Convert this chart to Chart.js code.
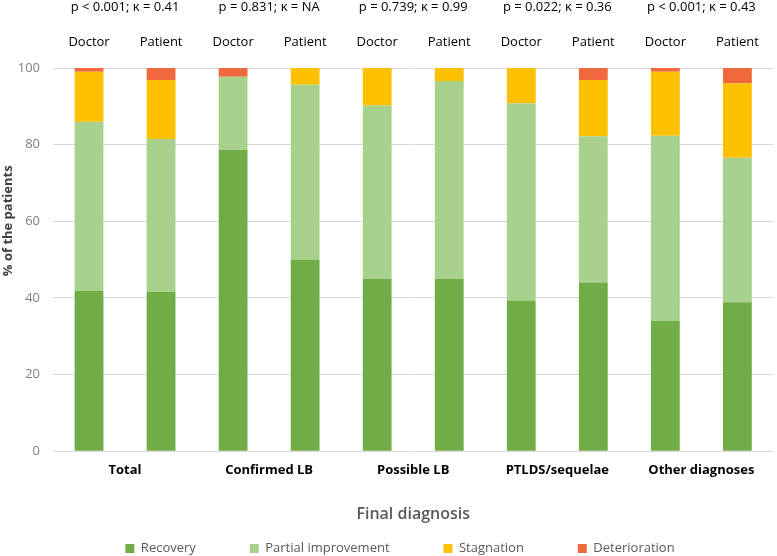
<!DOCTYPE html>
<html>
<head>
<meta charset="utf-8">
<script src="https://cdn.jsdelivr.net/npm/chart.js@4"></script>
<style>
  html, body { margin: 0; padding: 0; background: #fff; }
  #wrap { width: 777px; height: 556px; position: relative; }
</style>
</head>
<body>
<div id="wrap"><canvas id="chart"></canvas></div>
<script>
const ROLES = ["Doctor", "Patient", "Doctor", "Patient", "Doctor", "Patient", "Doctor", "Patient", "Doctor", "Patient"];
const GROUPS = ["Total", "Confirmed LB", "Possible LB", "PTLDS/sequelae", "Other diagnoses"];
const STATS = [
  "p < 0.001; κ = 0.41",
  "p = 0.831; κ = NA",
  "p = 0.739; κ = 0.99",
  "p = 0.022; κ = 0.36",
  "p < 0.001; κ = 0.43",
];

// % of the patients, one value per bar (Doctor/Patient per group)
const RECOVERY = [41.8, 41.6, 78.6, 50.0, 45.0, 45.0, 39.3, 44.0, 34.0, 38.9];
const PARTIAL = [44.2, 39.9, 19.1, 45.6, 45.2, 51.6, 51.5, 38.2, 48.3, 37.7];
const STAGNATION = [13.0, 15.4, 0, 4.4, 9.8, 3.4, 9.2, 14.7, 16.7, 19.4];
const DETERIORATION = [1.0, 3.1, 2.3, 0, 0, 0, 0, 3.1, 1.0, 4.0];

const FONT = "'Open Sans', 'Noto Sans', sans-serif";
const LEGEND_GAP = "             "; // widens the space between legend items

function makeDataset(label, data, color) {
  return {
    label: label,
    data: data,
    backgroundColor: color,
    borderWidth: 0,
    categoryPercentage: 1,
    barPercentage: 0.4,
  };
}

// nudge the legend a little to the right, as in the original
const legendShift = {
  id: "legendShift",
  afterLayout(chart) {
    if (chart.legend) {
      chart.legend.left += 24;
    }
  },
};

new Chart(document.getElementById("chart"), {
  type: "bar",
  data: {
    labels: ROLES,
    datasets: [
      makeDataset("Recovery", RECOVERY, "#70AD47"),
      makeDataset("Partial improvement", PARTIAL, "#A9D18E"),
      makeDataset("Stagnation", STAGNATION, "#FFC000"),
      makeDataset("Deterioration", DETERIORATION, "#F0683E"),
    ],
  },
  plugins: [legendShift],
  options: {
    responsive: true,
    maintainAspectRatio: false,
    animation: false,
    layout: { padding: { top: 0, right: 1, bottom: -9, left: 0 } },
    scales: {
      x: {
        position: "top",
        stacked: true,
        weight: 1,
        afterFit(axis) {
          axis.height = 34;
        },
        grid: { display: false, drawTicks: false },
        border: { display: false },
        ticks: { color: "#000", padding: 18, font: { family: FONT, size: 13 } },
      },
      xStats: {
        type: "category",
        position: "top",
        labels: STATS,
        weight: 2,
        afterFit(axis) {
          axis.height = 34;
        },
        grid: { display: false, drawTicks: false },
        border: { display: false },
        ticks: { color: "#000", padding: 19, font: { family: FONT, size: 13 } },
      },
      xGroups: {
        type: "category",
        position: "bottom",
        labels: GROUPS,
        grid: { display: false, drawTicks: false },
        border: { display: false },
        ticks: { color: "#000", padding: 11, font: { family: FONT, size: 13, weight: "bold" } },
        title: {
          display: true,
          text: "Final diagnosis",
          color: "#595959",
          font: { family: FONT, size: 16, weight: 600 },
          padding: { top: 16, bottom: 8 },
        },
      },
      y: {
        stacked: true,
        min: 0,
        max: 100,
        afterFit(axis) {
          axis.width = 53;
        },
        grid: { color: "#d9d9d9", lineWidth: 1, drawTicks: false },
        border: { display: false },
        ticks: { stepSize: 20, color: "#808080", padding: 13, font: { family: FONT, size: 13 } },
        title: {
          display: true,
          text: "                       % of the patients",
          color: "#404040",
          font: { family: FONT, size: 13, weight: "bold" },
          padding: { top: 0, bottom: 0 },
        },
      },
    },
    plugins: {
      tooltip: { enabled: false },
      legend: {
        position: "bottom",
        labels: {
          color: "#595959",
          boxWidth: 9,
          boxHeight: 9,
          padding: 10,
          font: { family: FONT, size: 13 },
          generateLabels(chart) {
            const items = Chart.defaults.plugins.legend.labels.generateLabels(chart);
            items.forEach((item, i) => {
              if (i < items.length - 1) {
                item.text = item.text + LEGEND_GAP;
              }
            });
            return items;
          },
        },
      },
    },
  },
});
</script>
</body>
</html>
